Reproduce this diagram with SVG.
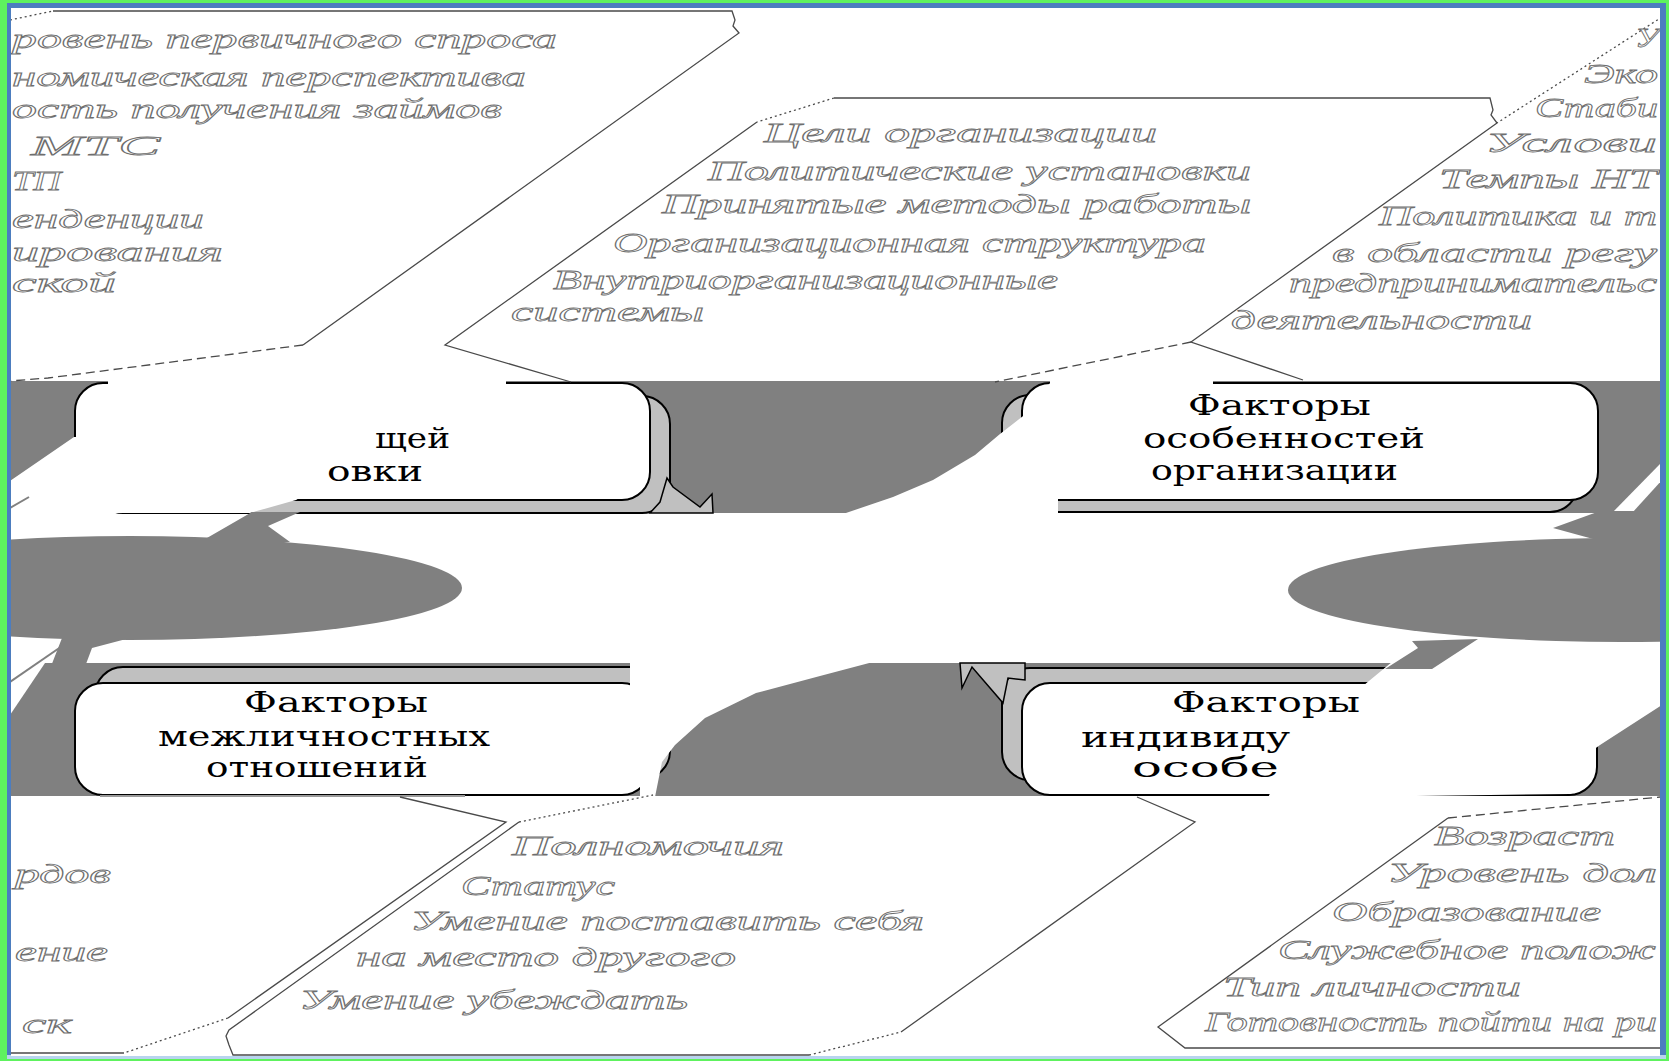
<svg xmlns="http://www.w3.org/2000/svg" width="1669" height="1061" viewBox="0 0 1669 1061">
<defs>
<clipPath id="cl"><rect x="11" y="8" width="1649" height="1048"/></clipPath>
<style>
.band{fill:#808080}
.shadow{fill:#c0c0c0;stroke:#000;stroke-width:2}
.box{fill:#fff;stroke:#000;stroke-width:2}
.btxt{font-family:"DejaVu Serif","Liberation Serif",serif;font-size:28px;fill:#000}
.ctxt{font-family:"Liberation Serif",serif;font-style:italic;font-size:28px;fill:#fff;stroke:#6e6e6e;stroke-width:0.8}
.ln{fill:none;stroke:#4a4a4a;stroke-width:1.3}
.dot{stroke-dasharray:2 3}
.dash{stroke-dasharray:9 5}
.wht{fill:#fff}
.grey{fill:#808080}
.spike{fill:#c0c0c0;stroke:#000;stroke-width:1.5}
</style>
</defs>
<g id="frame">
<rect x="0" y="0" width="1669" height="1061" fill="#5ef25e"/>
<rect x="7" y="3" width="1659" height="1056" fill="#4c7dbf"/>
<rect x="7" y="1055" width="1659" height="4" fill="#b8d4ee"/>
<rect x="11" y="8" width="1649" height="1048" fill="#fff"/>
</g>
<g clip-path="url(#cl)">
<g id="bands">
<rect class="band" x="0" y="381" width="1669" height="132"/>
<rect class="band" x="0" y="663" width="1669" height="133"/>
</g>
<g id="node-general">
<rect class="shadow" x="95" y="396" width="575" height="117" rx="28"/>
<rect class="box" x="75" y="383" width="575" height="117" rx="28"/>
</g>
<g id="node-organization">
<rect class="shadow" x="1002" y="395" width="576" height="117" rx="28"/>
<rect class="box" x="1022" y="383" width="576" height="117" rx="28"/>
<text class="btxt" x="1188" y="415" textLength="183" lengthAdjust="spacingAndGlyphs">Факторы</text>
<text class="btxt" x="1143" y="448" textLength="282" lengthAdjust="spacingAndGlyphs">особенностей</text>
<text class="btxt" x="1151" y="480" textLength="247" lengthAdjust="spacingAndGlyphs">организации</text>
</g>
<g id="node-interpersonal">
<rect class="shadow" x="95" y="667" width="575" height="112" rx="28"/>
<rect class="box" x="75" y="683" width="575" height="112" rx="28"/>
<text class="btxt" x="244" y="712" textLength="184" lengthAdjust="spacingAndGlyphs">Факторы</text>
<text class="btxt" x="158" y="746" textLength="332" lengthAdjust="spacingAndGlyphs">межличностных</text>
<text class="btxt" x="206" y="777" textLength="222" lengthAdjust="spacingAndGlyphs">отношений</text>
</g>
<g id="node-individual">
<rect class="shadow" x="1002" y="668" width="575" height="112" rx="28"/>
<rect class="box" x="1022" y="683" width="575" height="112" rx="28"/>
</g>
<g id="spikes">
<polygon class="spike" points="650,513 660,502 667,478 673,487 700,507 712,494 713,513"/>
<polygon class="spike" points="960,663 962,688 972,667 1003,703 1008,678 1025,680 1025,663"/>
</g>
<g id="overlays">
<polygon class="wht" points="10,481 74,437 78,437 78,412 86,397 97,389 108,385 108,379 506,379 506,386 470,402 420,421 375,440 350,462 332,478 296,500 250,513 10,513"/>
<polygon class="wht" points="843,514 893,497 933,480 975,455 1000,434 1027,413 1040,398 1050,383 1050,379 1213,379 1213,386 1100,450 1058,498 1058,514"/>
<polygon class="wht" points="630,662 873,662 820,676 756,693 705,718 675,745 662,762 655,797 640,797 640,770 630,745"/>
<polygon class="wht" points="1392,662 1662,662 1662,705 1600,745 1593,750 1593,772 1584,788 1570,794 1268,798 1278,775 1290,738 1320,712 1352,695 1375,676"/>
<polygon class="wht" points="10,663 45,663 10,715"/>
<polygon class="wht" points="1612,513 1662,462 1662,480 1632,513"/>
<line x1="100" y1="796" x2="465" y2="796" stroke="#9a9a9a" stroke-width="2"/>
</g>
<g id="node-texts">
<text class="btxt" x="375" y="448" textLength="75" lengthAdjust="spacingAndGlyphs">щей</text>
<text class="btxt" x="327" y="481" textLength="96" lengthAdjust="spacingAndGlyphs">овки</text>
<text class="btxt" x="1172" y="712" textLength="188" lengthAdjust="spacingAndGlyphs">Факторы</text>
<text class="btxt" x="1081" y="747" textLength="209" lengthAdjust="spacingAndGlyphs">индивиду</text>
<text class="btxt" x="1132" y="777" textLength="147" lengthAdjust="spacingAndGlyphs">особе</text>
</g>
<g id="ellipses">
<polygon class="grey" points="200,542 252,512 300,512 268,526 290,542"/>
<polygon class="grey" points="30,720 62,638 130,638 92,648 86,664 40,720"/>
<polygon class="grey" points="1553,528 1600,511 1662,511 1662,545 1615,545"/>
<polygon class="grey" points="1385,669 1418,648 1412,641 1478,639 1432,669"/>
<line x1="10" y1="508" x2="29" y2="497" stroke="#808080" stroke-width="2"/>
<line x1="10" y1="682" x2="68" y2="642" stroke="#808080" stroke-width="2"/>
<ellipse class="grey" cx="130" cy="588" rx="332" ry="52"/>
<ellipse class="grey" cx="1621" cy="590" rx="333" ry="52"/>
</g>
<g id="connectors">
<polyline class="ln dot" points="10,20 53,11"/>
<polyline class="ln" points="53,11 732,11 735,20 733,26 739,33 303,345"/>
<polyline class="ln dash" points="303,345 48,378 10,381"/>
<polyline class="ln dot" points="834,98 757,122"/>
<polyline class="ln" points="834,98 1490,98 1493,110 1491,115 1497,123"/>
<polyline class="ln" points="757,122 445,345 571,382"/>
<polyline class="ln dot" points="1662,17 1497,123"/>
<polyline class="ln" points="1497,123 1191,342 1303,380" stroke-width="1.8"/>
<polyline class="ln dash" points="1191,342 995,382"/>
<polyline class="ln" points="400,797 506,822 228,1018"/>
<polyline class="ln dot" points="228,1018 124,1053"/>
<polyline class="ln" points="10,1053 124,1053"/>
<polyline class="ln dot" points="519,822 653,795"/>
<polyline class="ln" points="519,822 229,1030 226,1036 229,1045 233,1055 809,1055"/>
<polyline class="ln dot" points="809,1055 901,1032"/>
<polyline class="ln" points="901,1032 1195,822 1137,797"/>
<polyline class="ln dash" points="1448,818 1660,797"/>
<polyline class="ln" points="1448,818 1158,1027 1185,1048 1662,1048"/>
</g>
<g id="callout-external">
<text class="ctxt" x="12" y="48" textLength="545" lengthAdjust="spacingAndGlyphs">ровень первичного спроса</text>
<text class="ctxt" x="12" y="86" textLength="514" lengthAdjust="spacingAndGlyphs">номическая перспектива</text>
<text class="ctxt" x="12" y="118" textLength="490" lengthAdjust="spacingAndGlyphs">ость получения займов</text>
<text class="ctxt" x="31" y="155" textLength="129" lengthAdjust="spacingAndGlyphs">МТС</text>
<text class="ctxt" x="12" y="190" textLength="49" lengthAdjust="spacingAndGlyphs">ТП</text>
<text class="ctxt" x="12" y="228" textLength="192" lengthAdjust="spacingAndGlyphs">енденции</text>
<text class="ctxt" x="12" y="261" textLength="211" lengthAdjust="spacingAndGlyphs">ирования</text>
<text class="ctxt" x="12" y="292" textLength="104" lengthAdjust="spacingAndGlyphs">ской</text>
</g>
<g id="callout-organization">
<text class="ctxt" x="764" y="142" textLength="393" lengthAdjust="spacingAndGlyphs">Цели  организации</text>
<text class="ctxt" x="708" y="180" textLength="543" lengthAdjust="spacingAndGlyphs">Политические  установки</text>
<text class="ctxt" x="662" y="213" textLength="589" lengthAdjust="spacingAndGlyphs">Принятые  методы работы</text>
<text class="ctxt" x="613" y="252" textLength="593" lengthAdjust="spacingAndGlyphs">Организационная  структура</text>
<text class="ctxt" x="553" y="289" textLength="505" lengthAdjust="spacingAndGlyphs">Внутриорганизационные</text>
<text class="ctxt" x="511" y="321" textLength="193" lengthAdjust="spacingAndGlyphs">системы</text>
</g>
<g id="callout-environment">
<text class="ctxt" x="1635" y="47" textLength="24" lengthAdjust="spacingAndGlyphs">У</text>
<text class="ctxt" x="1584" y="83" textLength="74" lengthAdjust="spacingAndGlyphs">Эко</text>
<text class="ctxt" x="1535" y="117" textLength="123" lengthAdjust="spacingAndGlyphs">Стаби</text>
<text class="ctxt" x="1485" y="152" textLength="172" lengthAdjust="spacingAndGlyphs">Услови</text>
<text class="ctxt" x="1439" y="188" textLength="218" lengthAdjust="spacingAndGlyphs">Темпы НТ</text>
<text class="ctxt" x="1379" y="225" textLength="278" lengthAdjust="spacingAndGlyphs">Политика и т</text>
<text class="ctxt" x="1332" y="262" textLength="325" lengthAdjust="spacingAndGlyphs">в области регу</text>
<text class="ctxt" x="1289" y="292" textLength="368" lengthAdjust="spacingAndGlyphs">предпринимательс</text>
<text class="ctxt" x="1231" y="329" textLength="301" lengthAdjust="spacingAndGlyphs">деятельности</text>
</g>
<g id="callout-interpersonal-left">
<text class="ctxt" x="15" y="883" textLength="96" lengthAdjust="spacingAndGlyphs">рдов</text>
<text class="ctxt" x="15" y="961" textLength="93" lengthAdjust="spacingAndGlyphs">ение</text>
<text class="ctxt" x="22" y="1033" textLength="50" lengthAdjust="spacingAndGlyphs">ск</text>
</g>
<g id="callout-interpersonal">
<text class="ctxt" x="512" y="855" textLength="272" lengthAdjust="spacingAndGlyphs">Полномочия</text>
<text class="ctxt" x="461" y="895" textLength="154" lengthAdjust="spacingAndGlyphs">Статус</text>
<text class="ctxt" x="410" y="930" textLength="514" lengthAdjust="spacingAndGlyphs">Умение  поставить себя</text>
<text class="ctxt" x="356" y="966" textLength="380" lengthAdjust="spacingAndGlyphs">на  место другого</text>
<text class="ctxt" x="299" y="1009" textLength="389" lengthAdjust="spacingAndGlyphs">Умение  убеждать</text>
</g>
<g id="callout-individual">
<text class="ctxt" x="1434" y="845" textLength="181" lengthAdjust="spacingAndGlyphs">Возраст</text>
<text class="ctxt" x="1387" y="882" textLength="270" lengthAdjust="spacingAndGlyphs">Уровень дол</text>
<text class="ctxt" x="1332" y="921" textLength="269" lengthAdjust="spacingAndGlyphs">Образование</text>
<text class="ctxt" x="1278" y="959" textLength="378" lengthAdjust="spacingAndGlyphs">Служебное полож</text>
<text class="ctxt" x="1223" y="996" textLength="298" lengthAdjust="spacingAndGlyphs">Тип личности</text>
<text class="ctxt" x="1205" y="1031" textLength="452" lengthAdjust="spacingAndGlyphs">Готовность пойти на ри</text>
</g>
</g>
</svg>
